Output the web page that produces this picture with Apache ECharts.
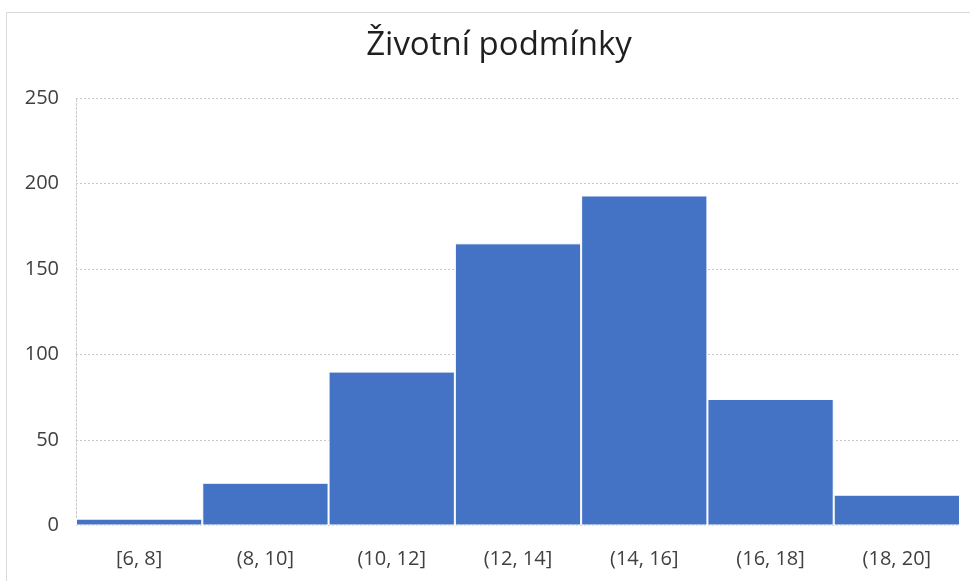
<!DOCTYPE html>
<html>
<head>
<meta charset="utf-8">
<script src="https://cdn.jsdelivr.net/npm/echarts@6/dist/echarts.min.js"></script>
<style>
html,body{margin:0;padding:0;background:#fff;}
#chart{width:970px;height:581px;}
</style>
</head>
<body>
<div id="chart"></div>
<script>
const titleText = "Životní podmínky";
const categories = ["[6, 8]", "(8, 10]", "(10, 12]", "(12, 14]", "(14, 16]", "(16, 18]", "(18, 20]"];
const counts = [4, 25, 90, 165, 193, 74, 18];
const yMin = 0, yMax = 250, yStep = 50;

const chart = echarts.init(document.getElementById('chart'), null, {renderer: 'canvas'});
chart.setOption({
  backgroundColor: '#ffffff',
  animation: false,
  title: {
    text: titleText,
    left: 494,
    textAlign: 'center',
    top: 24,
    textStyle: {fontFamily: 'Open Sans', fontWeight: 'normal', fontSize: 33, color: '#1f1f1f'}
  },
  graphic: [{
    type: 'rect',
    shape: {x: 6.5, y: 12.5, width: 1000, height: 600},
    style: {fill: 'none', stroke: '#d9d9d9', lineWidth: 1},
    silent: true
  }],
  grid: {left: 76, right: 10, top: 98, bottom: 55.5, containLabel: false},
  xAxis: {
    type: 'category',
    data: categories,
    axisLine: {show: false},
    axisTick: {show: false},
    axisLabel: {margin: 24, fontFamily: 'Open Sans', fontSize: 20, color: '#404040'}
  },
  yAxis: {
    type: 'value',
    min: yMin, max: yMax, interval: yStep,
    axisLine: {show: true, lineStyle: {color: '#c8c8c8', type: [2, 2], width: 1}},
    axisTick: {show: false},
    axisLabel: {margin: 17, fontFamily: 'Open Sans', fontSize: 20, color: '#404040'},
    splitLine: {show: true, lineStyle: {color: '#c8c8c8', type: [2, 2], width: 1}}
  },
  series: [{
    type: 'bar',
    data: counts,
    barCategoryGap: '0%',
    itemStyle: {color: '#4472c4', borderColor: '#ffffff', borderWidth: 1}
  }]
});
</script>
</body>
</html>
